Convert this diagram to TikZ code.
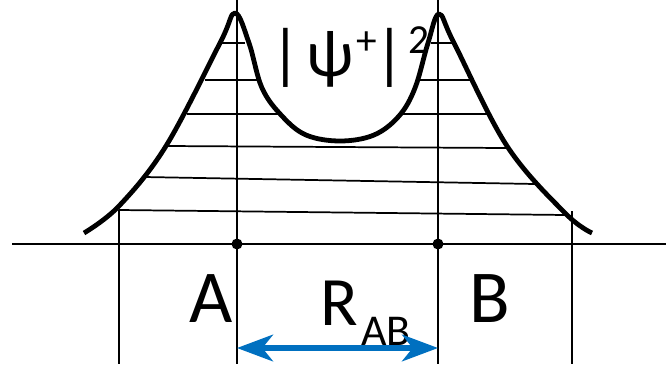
\documentclass[tikz,border=0pt]{standalone}
\usepackage{fontspec}
\setmainfont{Carlito}
\usetikzlibrary{arrows.meta}
\begin{document}
\begin{tikzpicture}[x=0.75pt,y=-0.75pt,
  guide/.style={line width=1.3pt},
  density/.style={line width=3.6pt,line join=round,line cap=butt},
  sepline/.style={line width=3.8pt,draw={rgb,255:red,0;green,112;blue,192},
    {Stealth[length=27pt,width=20pt,inset=8pt]}-{Stealth[length=27pt,width=20pt,inset=8pt]}}]
  \useasboundingbox (0,0) rectangle (666,364);
  % Axis and guides through A and B
  \draw[guide] (12,244) -- (666,244);
  \draw[guide] (237,0) -- (237,364);
  \draw[guide] (438,0) -- (438,364);
  \draw[guide] (119,210) -- (119,364);
  \draw[guide] (572,211) -- (572,364);
  % Hatching under the density
  \draw[guide] (221,43) -- (245,43);
  \draw[guide] (431,43) -- (453,43);
  \draw[guide] (205,80) -- (257,80);
  \draw[guide] (418,80) -- (470,80);
  \draw[guide] (187,114) -- (281,114);
  \draw[guide] (401,114) -- (490,114);
  \draw[guide] (166,146) -- (506,148);
  \draw[guide] (144,177) -- (535,184);
  \draw[guide] (119,210) -- (566,215);
  % Density curve
  \draw[density] plot[smooth,tension=0.6] coordinates {
    (84,233) (119,206) (166,146) (220,43)
    (235,13) (249,43) (262,88) (282,116) (306,135) (340,141) (374,135)
    (399,116) (415,88) (428,43) (439,14) (454,43)
    (507,146) (565,213) (592,233)};
  % Nuclei
  \coordinate (A) at (237,244);
  \coordinate (B) at (438,244);
  \fill (A) circle (5.5);
  \fill (B) circle (5.5);
  % Labels
  \node[font=\fontsize{50}{50}\selectfont,anchor=base west,inner sep=0pt] (psi)
    at (270,76) {|\hspace{4.5pt}ψ\hspace{2pt}\raisebox{16pt}{\fontsize{31}{31}\selectfont +}%
      \hspace{-2pt}|\hspace{2pt}\raisebox{17pt}{\fontsize{31}{31}\selectfont 2}};
  \node[font=\fontsize{56}{56}\selectfont,anchor=base,inner sep=0pt] (labA) at (211,322) {A};
  \node[font=\fontsize{56}{56}\selectfont,anchor=base,inner sep=0pt] (labB) at (490,322) {B};
  \node[font=\fontsize{52}{52}\selectfont,anchor=base west,inner sep=0pt] (labR) at (320,325) {R};
  \node[font=\fontsize{33}{33}\selectfont,anchor=base west,inner sep=0pt] (labAB) at (361,345) {AB};
  % Separation R_AB
  \coordinate (ra) at (237,348);
  \coordinate (rb) at (438,348);
  \draw[sepline] (ra) -- (rb);
\end{tikzpicture}
\end{document}
